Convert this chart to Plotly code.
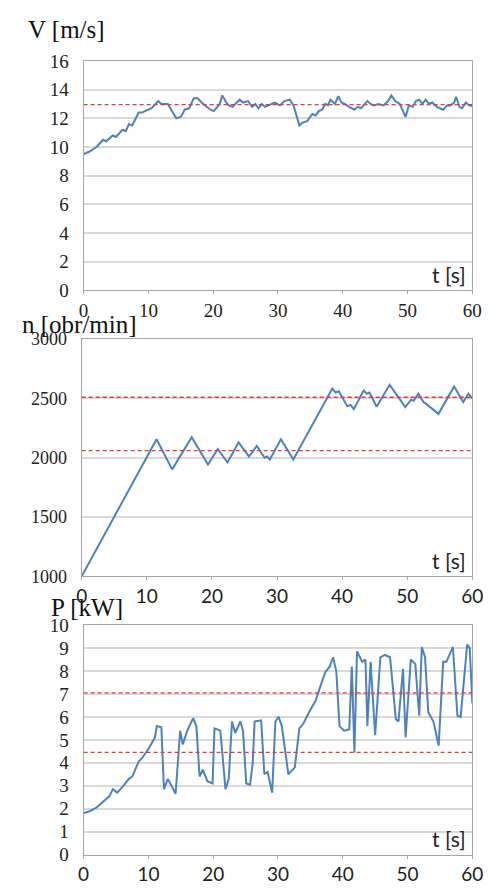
import plotly.graph_objects as go

# ---------------- data ----------------
t_v = [0, 1, 2, 3, 3.5, 4.5, 5, 6, 6.5, 7, 7.5, 8.5, 9, 10, 10.5, 11.5, 12, 13, 13.5, 14.3,
       15, 15.6, 16.3, 17, 17.6, 18.2, 19, 19.6, 20.1, 21, 21.4, 22, 22.4, 23, 23.4, 24.1,
       24.6, 25.4, 26, 26.5, 27, 27.5, 28, 28.9, 29.5, 30.3, 31, 31.8, 32.4, 33.3, 33.8,
       34.5, 35.3, 35.8, 36.3, 36.8, 37.3, 37.7, 38.1, 38.8, 39.3, 39.8, 40.3, 41, 41.8,
       42.3, 42.8, 43.8, 44.3, 44.8, 45.5, 46.3, 47, 47.5, 48.1, 48.8, 49.7, 50.2, 50.8,
       51.3, 51.8, 52.3, 52.8, 53.3, 53.8, 54.5, 55.5, 56.1, 56.6, 57.2, 57.5, 58, 58.4,
       59, 59.5, 60]
v_ms = [9.5, 9.7, 10.0, 10.5, 10.4, 10.8, 10.7, 11.2, 11.1, 11.6, 11.5, 12.4, 12.4, 12.6,
        12.7, 13.2, 13.0, 13.0, 12.6, 12.0, 12.1, 12.6, 12.7, 13.4, 13.4, 13.1, 12.8, 12.6,
        12.5, 13.0, 13.6, 13.1, 12.9, 12.8, 13.0, 13.3, 13.1, 13.2, 12.8, 13.0, 12.7, 13.0,
        12.8, 13.0, 13.1, 12.9, 13.2, 13.3, 12.9, 11.5, 11.7, 11.8, 12.3, 12.2, 12.5, 12.6,
        13.0, 12.9, 13.3, 13.0, 13.55, 13.1, 13.0, 12.8, 12.6, 12.8, 12.7, 13.2, 13.0, 12.9,
        13.0, 12.9, 13.2, 13.6, 13.2, 13.0, 12.1, 12.9, 12.8, 13.2, 13.3, 13.0, 13.3, 13.0,
        13.1, 12.8, 12.6, 12.9, 12.9, 13.1, 13.5, 12.8, 12.7, 13.1, 12.9, 12.85]
v_ref = 12.95

t_n = [0, 11.5, 13.9, 16.9, 19.4, 20.9, 22.4, 24.1, 25.7, 26.9, 28.1, 28.5, 28.9, 30.6,
       32.5, 38.5, 39.0, 39.5, 40.8, 41.3, 41.8, 43.3, 43.8, 44.2, 45.3, 47.3, 49.7, 50.6,
       51.0, 51.7, 52.5, 53.0, 54.8, 57.2, 58.6, 59.4, 60]
n_rpm = [1000, 2156, 1902, 2173, 1943, 2074, 1960, 2130, 2010, 2100, 2000, 2010, 1985, 2156,
         1985, 2583, 2550, 2560, 2435, 2445, 2410, 2566, 2540, 2550, 2430, 2615, 2427, 2490,
         2480, 2540, 2470, 2450, 2370, 2600, 2470, 2540, 2500]
n_ref_hi = 2510
n_ref_lo = 2060

t_p = [0, 1, 2, 3, 4, 4.5, 5.2, 6, 7, 7.5, 8.5, 9, 10, 11, 11.3, 12, 12.4, 13, 13.5, 14.2,
       14.9, 15.3, 16, 16.9, 17.4, 17.9, 18.4, 19.1, 19.9, 20.2, 21.1, 21.9, 22.4, 22.9,
       23.4, 24.2, 24.6, 25.1, 25.7, 26.1, 26.4, 27.4, 27.9, 28.4, 29.1, 29.6, 30.1, 30.6,
       31.6, 32.6, 33.3, 33.9, 34.8, 35.8, 36.5, 37.3, 38.0, 38.5, 39.0, 39.5, 40.2, 41,
       41.4, 41.8, 42.2, 43, 43.5, 43.8, 44.3, 45, 45.8, 46.5, 47.3, 48.2, 48.6, 49.3, 49.7,
       50.5, 51.2, 51.8, 52.2, 52.7, 53.2, 54.0, 54.8, 55.5, 56, 57, 57.7, 58.2, 59.2, 59.6, 60]
p_kw = [1.8, 1.9, 2.05, 2.3, 2.55, 2.85, 2.7, 2.95, 3.3, 3.4, 4.05, 4.2, 4.6, 5.1, 5.6, 5.55,
        2.85, 3.3, 3.0, 2.65, 5.4, 4.8, 5.4, 5.95, 5.6, 3.4, 3.7, 3.2, 3.1, 5.5, 5.4, 2.85,
        3.3, 5.8, 5.3, 5.8, 5.4, 3.1, 3.05, 4.0, 5.8, 5.85, 3.5, 3.6, 2.7, 5.8, 6.0, 5.6,
        3.5, 3.8, 5.5, 5.7, 6.2, 6.7, 7.3, 7.95, 8.2, 8.6, 8.0, 5.6, 5.4, 5.45, 8.2, 4.45,
        8.85, 8.4, 8.5, 5.6, 8.4, 5.2, 8.6, 8.7, 8.6, 5.9, 5.8, 8.1, 5.1, 8.5, 8.3, 6.05,
        9.05, 8.6, 6.2, 5.8, 4.75, 8.4, 8.4, 9.05, 6.05, 6.0, 9.15, 9.0, 6.6]
p_ref_hi = 7.05
p_ref_lo = 4.45

x_ticks = [0, 10, 20, 30, 40, 50, 60]
titles = ["V [m/s]", "n [obr/min]", "P [kW]"]
x_label = "t [s]"

# ---------------- style ----------------
OFF = 8            # browser default body margin
W, H = 492 - OFF, 888 - OFF
BLUE = "#4F81BD"
RED = "#E8383D"
GRID = "#D9D9D9"
AXIS = "#A6A6A6"
SERIF = "Liberation Serif"
SANS = "Lato"


def py(px):  # window pixel from top -> paper y
    return 1 - (px - OFF) / H


def pxx(px):
    return (px - OFF) / W


fig = go.Figure()

panels = [
    dict(t=t_v, y=v_ms, refs=[v_ref], rng=[0, 16], dt=2, top=52, bot=287, left=80,
         ytfs=19, xfont=SERIF, xtfs=19, tit_y=20, tit_x=20),
    dict(t=t_n, y=n_rpm, refs=[n_ref_hi, n_ref_lo], rng=[1000, 3000], dt=500, top=337,
         bot=580, left=78, ytfs=18, xfont=SANS, xtfs=19, tit_y=322, tit_x=14),
    dict(t=t_p, y=p_kw, refs=[p_ref_hi, p_ref_lo], rng=[0, 10], dt=1, top=630, bot=865,
         left=80, ytfs=19, xfont=SANS, xtfs=19, tit_y=612, tit_x=44),
]

for i, p in enumerate(panels):
    k = "" if i == 0 else str(i + 1)
    xa, ya = "x" + k, "y" + k
    fig.add_trace(go.Scatter(x=p["t"], y=p["y"], mode="lines", xaxis=xa, yaxis=ya,
                             line=dict(color=BLUE, width=2), showlegend=False))
    for r in p["refs"]:
        fig.add_trace(go.Scatter(x=[0, 60], y=[r, r], mode="lines", xaxis=xa, yaxis=ya,
                                 line=dict(color=RED, width=1.3, dash="4px,3px"),
                                 showlegend=False))
    dom_y = [py(p["bot"]), py(p["top"])]
    dom_x = [pxx(p["left"]), pxx(482)]
    fig.layout["xaxis" + k] = dict(
        domain=dom_x, anchor=ya, range=[0, 60], tickvals=x_ticks, showgrid=False,
        showline=True, linecolor=AXIS, linewidth=1, mirror=True, zeroline=False,
        ticks="outside", ticklen=3, tickcolor=AXIS, ticklabelstandoff=0,
        tickfont=dict(family=p["xfont"], size=p["xtfs"], color="#222"),
    )
    fig.layout["yaxis" + k] = dict(
        domain=dom_y, anchor=xa, range=p["rng"], dtick=p["dt"], showgrid=True,
        gridcolor=GRID, gridwidth=1.5, showline=True, linecolor=AXIS, linewidth=1,
        mirror=True, zeroline=False, ticks="", ticklabelstandoff=10,
        tickfont=dict(family=SERIF, size=p["ytfs"], color="#222"),
    )
    fig.add_annotation(text=titles[i], xref="paper", yref="paper", x=pxx(p["tit_x"]),
                       y=py(p["tit_y"]), xanchor="left", yanchor="middle", showarrow=False,
                       font=dict(family=SERIF, size=25, color="#111"))
    fig.add_annotation(text=x_label, xref="paper", yref="paper", x=pxx(478),
                       y=py(p["bot"] - 16), xanchor="right", yanchor="middle",
                       showarrow=False, font=dict(family=SANS, size=21, color="#222"))

fig.update_layout(width=W, height=H, margin=dict(l=0, r=0, t=0, b=0),
                  paper_bgcolor="white", plot_bgcolor="white")

fig.write_html("out.html")
